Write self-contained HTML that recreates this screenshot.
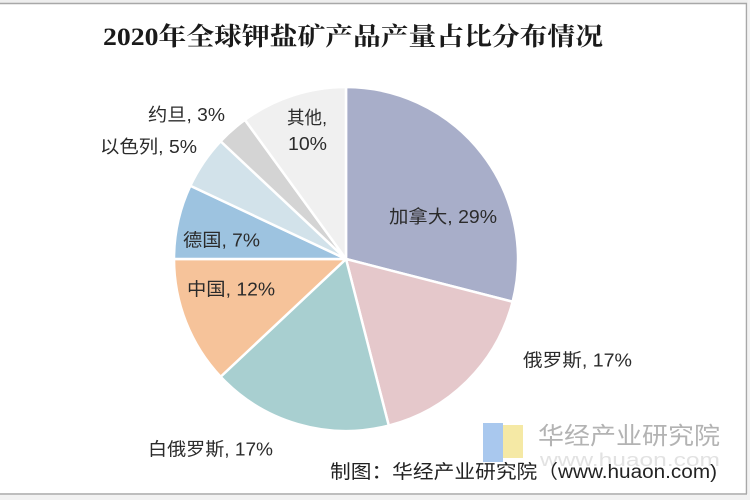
<!DOCTYPE html>
<html>
<head>
<meta charset="utf-8">
<style>
  html, body { margin:0; padding:0; background:#ffffff; }
  body { width:750px; height:500px; overflow:hidden; }
  svg { display:block; }
</style>
</head>
<body>
<svg width="750" height="500" viewBox="0 0 750 500" xmlns="http://www.w3.org/2000/svg">
  <rect x="0" y="0" width="750" height="500" fill="#ffffff"/>
  <!-- outer frame -->
  <rect x="0" y="0" width="750" height="3" fill="#eeeeee"/>
  <line x1="0" y1="3.5" x2="747" y2="3.5" stroke="#a8a8a8" stroke-width="1.5"/>
  <line x1="746.5" y1="3" x2="746.5" y2="494.5" stroke="#a8a8a8" stroke-width="1.5"/>
  <line x1="0" y1="494" x2="747" y2="494" stroke="#a8a8a8" stroke-width="1.5"/>
  <rect x="0" y="495" width="750" height="5" fill="#f2f2f2"/>
  <rect x="748" y="0" width="2" height="500" fill="#f2f2f2"/>

  <!-- title -->
  <text x="103" y="45" font-family="'Liberation Serif','Noto Serif CJK SC',serif" font-weight="bold" font-size="25" fill="#1a1a1a" textLength="500" lengthAdjust="spacingAndGlyphs">2020年全球钾盐矿产品产量占比分布情况</text>

  <!-- pie -->
  <g stroke="#ffffff" stroke-width="2.5" stroke-linejoin="round">
    <path d="M346,259 L346,87 A172,172 0 0 1 512.60,301.77 Z" fill="#a8aec9"/>
    <path d="M346,259 L512.60,301.77 A172,172 0 0 1 388.77,425.60 Z" fill="#e5c8cb"/>
    <path d="M346,259 L388.77,425.60 A172,172 0 0 1 220.62,376.74 Z" fill="#a8cfd0"/>
    <path d="M346,259 L220.62,376.74 A172,172 0 0 1 174,259 Z" fill="#f6c39a"/>
    <path d="M346,259 L174,259 A172,172 0 0 1 190.37,185.77 Z" fill="#9dc3e0"/>
    <path d="M346,259 L190.37,185.77 A172,172 0 0 1 220.62,141.26 Z" fill="#d2e2ea"/>
    <path d="M346,259 L220.62,141.26 A172,172 0 0 1 244.90,119.85 Z" fill="#d4d4d4"/>
    <path d="M346,259 L244.90,119.85 A172,172 0 0 1 346,87 Z" fill="#f0f0f0"/>
  </g>

  <!-- labels -->
  <g font-family="'Liberation Sans','Noto Sans CJK SC',sans-serif" font-size="18" fill="#2b2b2b">
    <text x="148" y="121" textLength="77" lengthAdjust="spacingAndGlyphs">约旦, 3%</text>
    <text x="100" y="153" textLength="97" lengthAdjust="spacingAndGlyphs">以色列, 5%</text>
    <text x="287" y="124" textLength="40" lengthAdjust="spacingAndGlyphs">其他,</text>
    <text x="288" y="150" textLength="39" lengthAdjust="spacingAndGlyphs">10%</text>
    <text x="389" y="223" textLength="108" lengthAdjust="spacingAndGlyphs">加拿大, 29%</text>
    <text x="183" y="246.5" textLength="77" lengthAdjust="spacingAndGlyphs">德国, 7%</text>
    <text x="187" y="295.5" textLength="88" lengthAdjust="spacingAndGlyphs">中国, 12%</text>
    <text x="523" y="366.5" textLength="109" lengthAdjust="spacingAndGlyphs">俄罗斯, 17%</text>
    <text x="148" y="455.5" textLength="125" lengthAdjust="spacingAndGlyphs">白俄罗斯, 17%</text>
  </g>

  <!-- watermark logo -->
  <rect x="483" y="423" width="20" height="39" fill="#a9c8ee"/>
  <rect x="503" y="425" width="20" height="33" fill="#f5e9a5"/>
  <text x="538" y="444" font-family="'Liberation Sans','Noto Sans CJK SC',sans-serif" font-size="24" fill="#b3b3b3" textLength="182" lengthAdjust="spacingAndGlyphs">华经产业研究院</text>
  <text x="540" y="466" font-family="'Liberation Sans',sans-serif" font-size="18" fill="#e2e2e2" textLength="180" lengthAdjust="spacingAndGlyphs">www.huaon.com</text>

  <!-- source -->
  <text x="330" y="478" font-family="'Liberation Sans','Noto Sans CJK SC',sans-serif" font-size="19" fill="#222222" textLength="387" lengthAdjust="spacingAndGlyphs">制图：华经产业研究院（www.huaon.com)</text>
</svg>
</body>
</html>
